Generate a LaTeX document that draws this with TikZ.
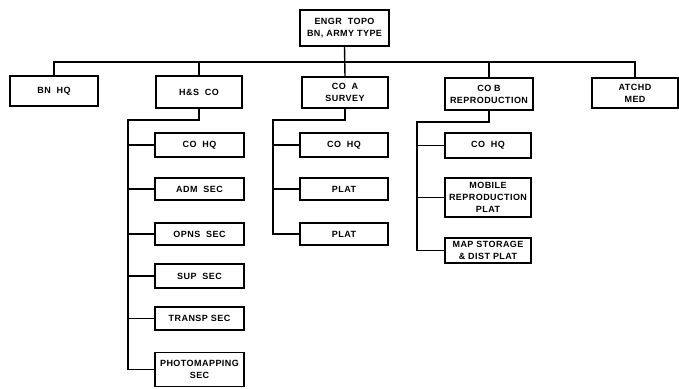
\documentclass[tikz,border=0pt]{standalone}
\usepackage{fontspec}
\setmainfont{Liberation Sans}[LetterSpace=5]
\begin{document}
\begin{tikzpicture}[x=1pt,y=-1pt,
  box/.style={draw, line width=1.1pt, align=center, inner sep=0pt,
    font=\fontsize{9}{12}\selectfont\bfseries},
  link/.style={line width=1.4pt}]
\useasboundingbox (0,0) rectangle (679,388);
% top
\node[box, minimum width=89, minimum height=36] (top) at (344.5,28) {ENGR\ \ TOPO\\BN, ARMY TYPE};
% level 1
\node[box, minimum width=88, minimum height=30] (bnhq) at (54,91) {BN\ \ HQ};
\node[box, minimum width=86, minimum height=32] (hs) at (199,92) {H\&S\ \ CO};
\node[box, minimum width=86, minimum height=31] (coa) at (345,92.5) {CO\ \ A\\SURVEY};
\node[box, minimum width=88, minimum height=32] (cob) at (489,94) {CO B\\REPRODUCTION};
\node[box, minimum width=86, minimum height=30] (atchd) at (635,93) {ATCHD\\MED};
% H&S children
\node[box, minimum width=89, minimum height=24] (hs1) at (199.5,145) {CO\ \ HQ};
\node[box, minimum width=89, minimum height=22] (hs2) at (199.5,189) {ADM\ \ SEC};
\node[box, minimum width=89, minimum height=22] (hs3) at (199.5,234) {OPNS\ \ SEC};
\node[box, minimum width=89, minimum height=24] (hs4) at (199.5,276) {SUP\ \ SEC};
\node[box, minimum width=89, minimum height=23] (hs5) at (199.5,318.5) {TRANSP\ SEC};
\node[box, minimum width=89, minimum height=34] (hs6) at (199.5,369.5) {PHOTOMAPPING\\SEC};
% CO A children
\node[box, minimum width=88, minimum height=24] (ca1) at (344,145) {CO\ \ HQ};
\node[box, minimum width=88, minimum height=22] (ca2) at (344,189) {PLAT};
\node[box, minimum width=88, minimum height=22] (ca3) at (344,234) {PLAT};
% CO B children
\node[box, minimum width=86, minimum height=25] (cb1) at (488,145.5) {CO\ \ HQ};
\node[box, minimum width=86, minimum height=39] (cb2) at (488,197.5) {MOBILE\\REPRODUCTION\\PLAT};
\node[box, minimum width=86, minimum height=25] (cb3) at (488,250.5) {MAP STORAGE\\\& DIST PLAT};
% bus
\coordinate (bus) at (345,62);
\draw[link] (top.south) -- (coa.north);
\draw[link] (bnhq.north) |- (bus) -| (atchd.north);
\draw[link] (hs.north) -- (hs.north |- bus);
\draw[link] (cob.north) -- (cob.north |- bus);
% trunks
\coordinate (hsT) at (128,120);
\coordinate (coaT) at (273,120);
\coordinate (cobT) at (417,122);
\draw[link] (hs.south) |- (hsT) |- (hs6.west);
\foreach \c in {hs1,hs2,hs3,hs4,hs5} \draw[link] (hsT |- \c.west) -- (\c.west);
\draw[link] (coa.south) |- (coaT) |- (ca3.west);
\foreach \c in {ca1,ca2} \draw[link] (coaT |- \c.west) -- (\c.west);
\draw[link] (cob.south) |- (cobT) |- (cb3.west);
\foreach \c in {cb1,cb2} \draw[link] (cobT |- \c.west) -- (\c.west);
\end{tikzpicture}
\end{document}
